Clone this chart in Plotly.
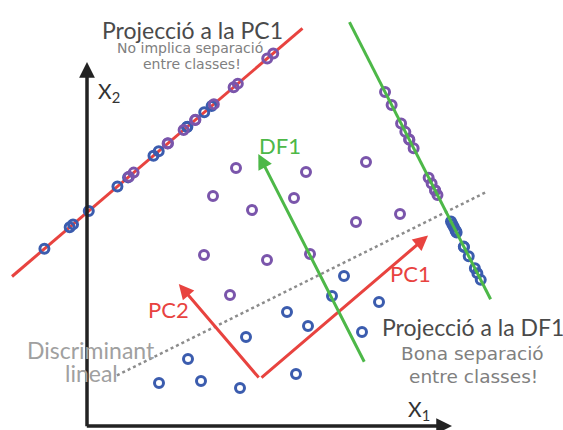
import numpy as np
import plotly.graph_objects as go

# Two classes of observations in the (X1, X2) plane
purple_x1 = [14.9, 21.9, 27.9, 12.6, 20.7, 16.5, 26.9, 31.3, 11.7, 18.0, 22.3, 14.3]
purple_x2 = [25.8, 25.4, 26.4, 23.0, 22.8, 21.6, 20.4, 21.2, 17.1, 16.6, 17.2, 13.1]
blue_x1 = [25.7, 24.5, 29.2, 20.0, 22.1, 27.5, 15.9, 10.1, 20.9, 7.2, 11.4, 15.3]
blue_x2 = [15.0, 13.0, 12.4, 11.4, 10.0, 9.4, 8.9, 6.7, 5.2, 4.3, 4.5, 3.8]

# Diagram geometry (data units)
AXIS_LEN = 36.4
PC_ORIGIN = np.array([17.3, 4.7])
PC_ANGLE = 40.5
PC1_LEN, PC2_LEN = 22.1, 12.5
PC_PROJ_OFFSET = 23.9
PC_PROJ_SPAN = (-12.2, 26.0)

DF_TAIL = np.array([27.8, 6.27])
DF_ANGLE = 117.0
DF_LEN = 23.5
DF_PROJ_OFFSET = 14.1
DF_PROJ_SPAN = (0.0, 31.1)

SEP_CENTER = np.array([21.4, 14.2])
SEP_ANGLE = 26.4
SEP_LEN = 41.1

PURPLE = "#7A55AB"
BLUE = "#3B5CAE"
RED = "#E8433F"
GREEN = "#4DB848"
AXIS = "#222222"

TITLE_FONT = "Lato, Roboto, sans-serif"
SUB_FONT = "DejaVu Sans, sans-serif"


def unit(deg):
    r = np.deg2rad(deg)
    return np.array([np.cos(r), np.sin(r)])


def project(xs, ys, base, direction):
    pts = np.column_stack([xs, ys]) - base
    t = pts @ direction
    foot = base + np.outer(t, direction)
    return foot[:, 0], foot[:, 1]


u = unit(PC_ANGLE)
n = unit(PC_ANGLE + 90)
pc_base = PC_ORIGIN + PC_PROJ_OFFSET * n
pc_line = np.array([pc_base + s * u for s in PC_PROJ_SPAN])

w = unit(DF_ANGLE)
m = unit(DF_ANGLE - 90)
df_base = DF_TAIL + DF_PROJ_OFFSET * m
df_line = np.array([df_base + s * w for s in DF_PROJ_SPAN])

sep_dir = unit(SEP_ANGLE)
sep_line = np.array([SEP_CENTER - SEP_LEN / 2 * sep_dir, SEP_CENTER + SEP_LEN / 2 * sep_dir])

ppc_x, ppc_y = project(purple_x1, purple_x2, pc_base, u)
bpc_x, bpc_y = project(blue_x1, blue_x2, pc_base, u)
pdf_x, pdf_y = project(purple_x1, purple_x2, df_base, w)
bdf_x, bdf_y = project(blue_x1, blue_x2, df_base, w)


def ring(xs, ys, color):
    return go.Scatter(
        x=xs, y=ys, mode="markers", hoverinfo="skip", showlegend=False,
        marker=dict(symbol="circle-open", size=9, color=color,
                    line=dict(width=3, color=color)),
    )


def seg(pts, color, width, dash="solid"):
    return go.Scatter(
        x=pts[:, 0], y=pts[:, 1], mode="lines", hoverinfo="skip", showlegend=False,
        line=dict(color=color, width=width, dash=dash),
    )


fig = go.Figure()
fig.add_trace(seg(sep_line, "#8C8C8C", 2.5, dash="dot"))
fig.add_trace(seg(pc_line, RED, 3))
fig.add_trace(ring(bpc_x, bpc_y, BLUE))
fig.add_trace(ring(ppc_x, ppc_y, PURPLE))
fig.add_trace(ring(purple_x1, purple_x2, PURPLE))
fig.add_trace(ring(blue_x1, blue_x2, BLUE))
fig.add_trace(ring(bdf_x, bdf_y, BLUE))
fig.add_trace(ring(pdf_x, pdf_y, PURPLE))
fig.add_trace(seg(df_line, GREEN, 3))


def arrow(tail, head, color, width, size):
    return dict(
        x=head[0], y=head[1], ax=tail[0], ay=tail[1],
        xref="x", yref="y", axref="x", ayref="y",
        text="", showarrow=True, arrowhead=2, arrowsize=size,
        arrowwidth=width, arrowcolor=color, standoff=0, startstandoff=0,
    )


def label(x, y, text, size, color, family, xanchor="center"):
    return dict(
        x=x, y=y, xref="x", yref="y", text=text, showarrow=False,
        xanchor=xanchor, yanchor="middle",
        font=dict(size=size, color=color, family=family),
    )


corner = 0.17
annotations = [
    arrow((0, -corner), (0, AXIS_LEN), AXIS, 3.5, 0.9),
    arrow((-corner, 0), (AXIS_LEN + 0.1, 0), AXIS, 3.5, 0.9),
    arrow(PC_ORIGIN, PC_ORIGIN + PC1_LEN * u, RED, 3, 1.0),
    arrow(PC_ORIGIN, PC_ORIGIN + PC2_LEN * n, RED, 3, 1.0),
    arrow(DF_TAIL, DF_TAIL + DF_LEN * w, GREEN, 3, 1.0),
    label(10.5, 39.65, "Projecció a la PC1", 23, "#4A4A4A", TITLE_FONT),
    label(10.25, 37.8, "No implica separació", 14, "#808080", SUB_FONT),
    label(10.5, 36.25, "entre classes!", 14, "#808080", SUB_FONT),
    label(38.6, 9.89, "Projecció a la DF1", 23, "#4A4A4A", TITLE_FONT),
    label(38.55, 7.29, "Bona separació", 18.5, "#808080", SUB_FONT),
    label(38.6, 5.0, "entre classes!", 18.5, "#808080", SUB_FONT),
    label(0.4, 7.6, "Discriminant", 23, "#A0A0A0", TITLE_FONT),
    label(0.4, 5.3, "lineal", 23, "#A0A0A0", TITLE_FONT),
    label(19.25, 28.05, "DF1", 22, GREEN, TITLE_FONT),
    label(32.35, 15.25, "PC1", 22, RED, TITLE_FONT),
    label(8.1, 11.65, "PC2", 22, RED, TITLE_FONT),
    label(0.87, 33.43, "X<sub>2</sub>", 21, "#333333", TITLE_FONT, xanchor="left"),
    label(31.87, 1.6, "X<sub>1</sub>", 21, "#333333", TITLE_FONT, xanchor="left"),
]

fig.update_layout(
    width=563, height=430, autosize=False,
    margin=dict(l=0, r=0, t=0, b=0),
    paper_bgcolor="white", plot_bgcolor="white",
    xaxis=dict(range=[-8.7, 47.6], visible=False, fixedrange=True),
    yaxis=dict(range=[-0.4, 42.6], visible=False, fixedrange=True),
    annotations=annotations,
    showlegend=False,
)

fig.write_html("out.html")
